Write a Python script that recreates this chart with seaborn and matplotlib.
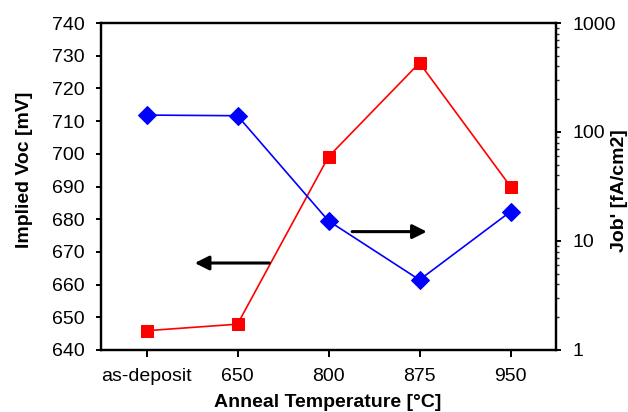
import matplotlib
matplotlib.use("Agg")
import matplotlib.pyplot as plt
import matplotlib.ticker as mticker
import seaborn as sns
import pandas as pd

categories = ["as-deposit", "650", "800", "875", "950"]
voc_mv = [645.9, 647.9, 699.1, 727.8, 690.0]
job_fa = [143.0, 141.0, 15.3, 4.4, 18.6]

sns.set_theme(style="white")
plt.rcParams["font.family"] = ["Liberation Sans", "DejaVu Sans"]
plt.rcParams["text.color"] = "black"
plt.rcParams["axes.labelcolor"] = "black"

df = pd.DataFrame({"cat": categories, "voc": voc_mv, "job": job_fa})

fig = plt.figure(figsize=(6.28, 4.12), dpi=100)
ax = fig.add_axes([101/628, 1-350/412, (556-101)/628, (350-23)/412])
ax2 = ax.twinx()

sns.lineplot(data=df, x="cat", y="voc", ax=ax, color="#ff0000", marker="s",
             markersize=8.5, markeredgecolor="#ff0000", linewidth=1.2, sort=False)
sns.lineplot(data=df, x="cat", y="job", ax=ax2, color="#0000ff", marker="D",
             markersize=9.5, markeredgecolor="#0000ff", linewidth=1.2, sort=False)

ax.set_xlim(-0.5, 4.5)
ax.set_ylim(640, 740)
ax.set_yticks(range(640, 741, 10))
ax2.set_yscale("log")
ax2.set_ylim(1, 1000)
ax2.yaxis.set_major_locator(mticker.LogLocator(base=10))
ax2.yaxis.set_major_formatter(mticker.FuncFormatter(lambda v, p: f"{v:g}"))
ax2.yaxis.set_minor_locator(mticker.LogLocator(base=10, subs=range(2, 10)))
ax2.yaxis.set_minor_formatter(mticker.NullFormatter())

for a in (ax, ax2):
    for s in a.spines.values():
        s.set_linewidth(1.6)
        s.set_color("black")
ax.tick_params(axis="y", which="major", direction="out", length=3.6, width=1.4,
               labelsize=14, colors="black", left=True, pad=8)
ax.tick_params(axis="x", which="major", direction="out", length=5, width=1.4,
               labelsize=14, colors="black", bottom=True, pad=8)
ax2.tick_params(axis="y", which="major", direction="out", length=3.6, width=1.4,
                labelsize=14, colors="black", right=True, pad=8)
ax2.tick_params(axis="y", which="minor", direction="out", length=2, width=1.0,
                right=True)

ax.set_xlabel("Anneal Temperature [°C]", fontsize=14, fontweight="bold", color="black")
ax.xaxis.set_label_coords((328 - 101) / 455, (350 - 402.5) / 327)
ax.xaxis.label.set_verticalalignment("center")

ax.set_ylabel("Implied Voc [mV]", fontsize=14, fontweight="bold", color="black")
ax.yaxis.set_label_coords((25 - 101) / 455, (350 - 169.5) / 327)
ax.yaxis.label.set_verticalalignment("center")

ax2.set_ylabel("Job' [fA/cm2]", fontsize=14, fontweight="bold", color="black")
ax2.yaxis.set_label_coords((620 - 101) / 455, (350 - 191) / 327)
ax2.yaxis.label.set_verticalalignment("center")

style = "-|>,head_length=0.5,head_width=0.25"
ax.annotate("", xy=(0.53, 666.6), xytext=(1.35, 666.6),
            arrowprops=dict(arrowstyle=style, color="black", lw=2.2, mutation_scale=17,
                            shrinkA=0, shrinkB=0))
ax.annotate("", xy=(3.08, 676.2), xytext=(2.26, 676.2),
            arrowprops=dict(arrowstyle=style, color="black", lw=2.2, mutation_scale=17,
                            shrinkA=0, shrinkB=0))

fig.savefig("out.png", dpi=100)
